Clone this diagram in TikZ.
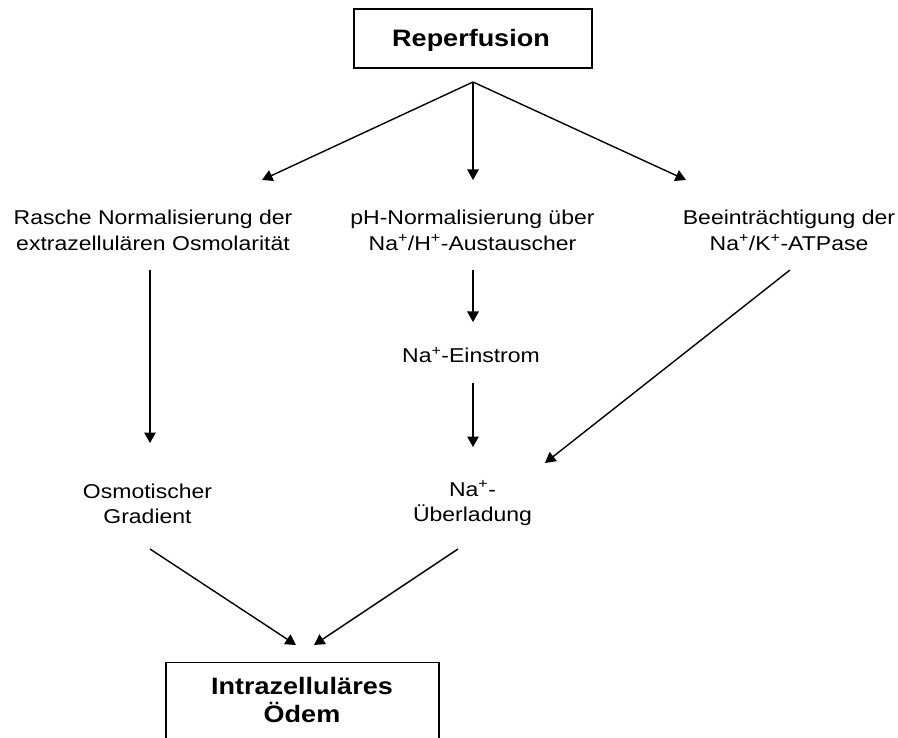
\documentclass[tikz,border=0pt]{standalone}
\usepackage{fontspec}
\setmainfont{Liberation Sans}
\usetikzlibrary{arrows.meta}
\tikzset{
  txt/.style={font=\fontsize{23}{30}\selectfont, align=center, inner sep=0pt, yscale=0.87, transform shape},
  txtb/.style={font=\fontsize{23}{28.5}\selectfont, align=center, inner sep=0pt, yscale=0.87, transform shape},
  btxt/.style={font=\fontsize{27}{31.5}\selectfont\bfseries, align=center, inner sep=0pt, yscale=0.88, transform shape},
  boxed/.style={draw, line width=1.2pt, inner sep=0pt},
  arr/.style={line width=1.4pt, -{Triangle[length=10.5pt,width=11.5pt]}}
}
\begin{document}
\begin{tikzpicture}[x=1pt,y=-1pt]
\useasboundingbox (0,0) rectangle (898,738);
% boxes
\node (rep) [boxed, minimum width=238pt, minimum height=59pt] at (473,38.5) {};
\node (reptxt) [btxt, anchor=base] at (471,46.7) {Reperfusion};
\node (odem) [boxed, minimum width=273pt, minimum height=120pt, anchor=north] at (302.5,662) {};
\node (odemtxt) [btxt, anchor=base] at (302,722.5) {Intrazelluläres\\Ödem};
% texts
\node (rasche) [txt] at (153,230) {Rasche Normalisierung der\\extrazellulären Osmolarität};
\node (ph) [txt] at (472.5,230) {pH-Normalisierung über\\Na\textsuperscript{+}/H\textsuperscript{+}-Austauscher};
\node (beein) [txt] at (789,230) {Beeinträchtigung der\\Na\textsuperscript{+}/K\textsuperscript{+}-ATPase};
\node (ein) [txt, anchor=base] at (471,363) {Na\textsuperscript{+}-Einstrom};
\node (osm) [txtb, anchor=base] at (147.5,523) {Osmotischer\\Gradient};
\node (ueber) [txtb, anchor=base] at (472.5,521.5) {Na\textsuperscript{+}-\\Überladung};
% connector end points
\coordinate (r0) at (473,82);
\coordinate (a1) at (262,180);
\coordinate (a2) at (473,180);
\coordinate (a3) at (686,180);
\coordinate (l0) at (150,270);
\coordinate (l1) at (150,443);
\coordinate (m0) at (473,270);
\coordinate (m1) at (473,322);
\coordinate (e0) at (473,383);
\coordinate (e1) at (473,447);
\coordinate (d0) at (790,270);
\coordinate (d1) at (545,463);
\coordinate (o0) at (150,549);
\coordinate (o1) at (296,645);
\coordinate (u0) at (458,549);
\coordinate (u1) at (314,645);
% connectors
\draw[arr] (r0) -- (a1);
\draw[arr] (r0) -- (a2);
\draw[arr] (r0) -- (a3);
\draw[arr] (l0) -- (l1);
\draw[arr] (m0) -- (m1);
\draw[arr] (e0) -- (e1);
\draw[arr] (d0) -- (d1);
\draw[arr] (o0) -- (o1);
\draw[arr] (u0) -- (u1);
\end{tikzpicture}
\end{document}
